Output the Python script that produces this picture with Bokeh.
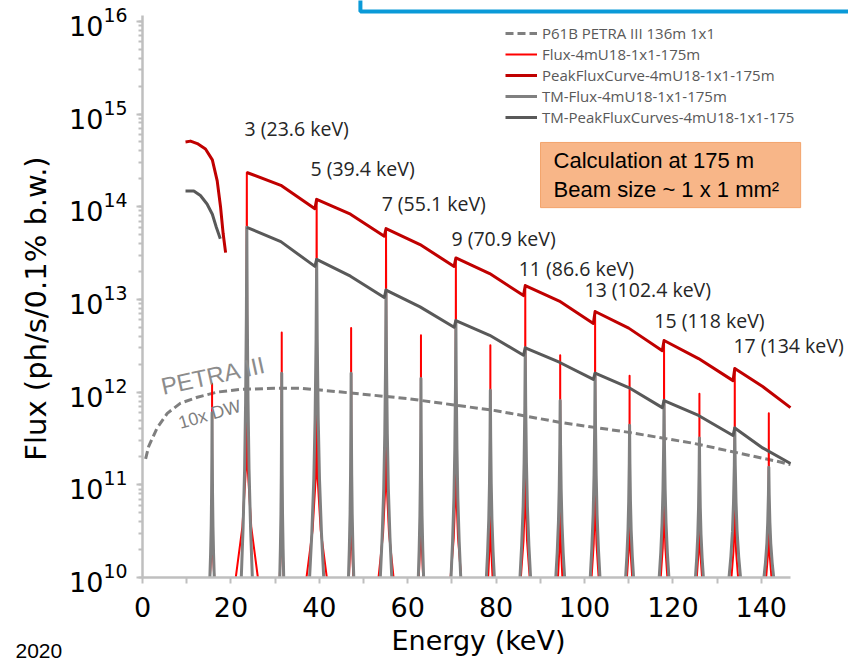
import numpy as np
from bokeh.plotting import figure
from bokeh.core.properties import value
from bokeh.models import (Range1d, FixedTicker, Legend, LegendItem,
                          BoxAnnotation, Label, LabelSet, ColumnDataSource)
from bokeh.embed import file_html
from bokeh.resources import INLINE

# ---------------- data ----------------
petra_energy = [0.7, 1.4, 3.3, 5.6, 8.6, 12.4, 16.9, 22.2, 29.9, 36.0, 45.0, 60.0,
                80.0, 94.6, 109.7, 124.7, 144.3, 146.6]
petra_flux = [1.9e11, 2.6e11, 4.1e11, 5.9e11, 7.6e11, 8.8e11, 1.0e12, 1.07e12, 1.1e12,
              1.1e12, 1.0e12, 8.5e11, 6.3e11, 4.7e11, 3.7e11, 2.8e11, 1.76e11, 1.65e11]

harm_order = [2, 3, 4, 5, 6, 7, 8, 9, 10, 11, 12, 13, 14, 15, 16, 17, 18]
harm_energy = [15.74, 23.6, 31.5, 39.4, 47.2, 55.1, 63.0, 70.9, 78.7, 86.6, 94.5,
               102.4, 110.2, 118.0, 126.0, 134.0, 141.7]
flux_peak = [1.23e12, 2.34e14, 4.4e12, 1.2e14, 4.9e12, 5.8e13, 4.1e12, 2.8e13, 3.2e12,
             1.41e13, 2.5e12, 7.4e12, 1.5e12, 3.6e12, 9.6e11, 1.8e12, 5.9e11]
tm_flux_peak = [6.0e11, 6.0e13, 1.6e12, 2.7e13, 1.6e12, 1.26e13, 1.4e12, 5.9e12, 1.05e12,
                3.0e12, 8.1e11, 1.6e12, 4.4e11, 8.1e11, 3.2e11, 4.1e11, 1.55e11]
flux_base_halfwidth = [0.5, 2.5, 0.45, 2.3, 0.5, 1.7, 0.5, 1.2, 0.5, 1.0, 0.5, 0.8,
                       0.6, 0.75, 0.6, 0.75, 0.6]
tm_base_halfwidth = [0.5, 1.25, 0.45, 1.6, 0.6, 1.3, 0.6, 1.1, 0.9, 1.2, 1.0, 1.1,
                     0.9, 1.1, 0.9, 1.3, 1.1]

# first-harmonic tuning curves
h1_pfc_energy = [9.73, 10.86, 12.4, 14.25, 15.8, 16.9, 17.65, 18.25, 18.8]
h1_pfc_flux = [5.0e14, 5.1e14, 4.8e14, 4.2e14, 3.2e14, 1.9e14, 1.0e14, 5.1e13, 3.2e13]
h1_tm_energy = [9.73, 11.6, 13.1, 14.6, 15.8, 16.7, 17.6]
h1_tm_flux = [1.48e14, 1.48e14, 1.32e14, 1.07e14, 8.3e13, 6.0e13, 4.5e13]

# higher-harmonic tuning-curve segments (3rd .. 17th)
seg_start_energy = [23.6, 39.4, 55.1, 70.9, 86.6, 102.4, 118.0, 134.0]
seg_end_energy = [39.0, 54.7, 70.5, 86.2, 102.0, 117.6, 133.6, 146.6]
pfc_start = [2.34e14, 1.2e14, 5.8e13, 2.8e13, 1.41e13, 7.4e12, 3.6e12, 1.8e12]
pfc_mid = [1.7e14, 8.3e13, 3.9e13, 1.9e13, 9.6e12, 4.9e12, 2.3e12, 1.15e12]
pfc_end = [9.5e13, 4.8e13, 2.27e13, 1.1e13, 5.5e12, 2.8e12, 1.33e12, 6.8e11]
tm_start = [6.0e13, 2.7e13, 1.26e13, 5.9e12, 3.0e12, 1.6e12, 8.1e11, 4.1e11]
tm_mid = [4.2e13, 1.78e13, 8.3e12, 4.1e12, 2.1e12, 1.12e12, 5.6e11, 2.5e11]
tm_end = [2.27e13, 1.05e13, 5.0e12, 2.5e12, 1.37e12, 6.8e11, 3.4e11, 1.7e11]

harm_label_text = ["3 (23.6 keV)", "5 (39.4 keV)", "7 (55.1 keV)", "9 (70.9 keV)",
                   "11 (86.6 keV)", "13 (102.4 keV)", "15 (118 keV)", "17 (134 keV)"]
harm_label_energy = [23.1, 38.0, 54.1, 69.9, 85.1, 100.0, 115.8, 133.7]
harm_label_flux = [6.9e14, 2.57e14, 1.07e14, 4.57e13, 2.14e13, 1.29e13, 5.89e12, 3.16e12]

x_ticks = [0, 20, 40, 60, 80, 100, 120, 140]
x_minor_ticks = [10, 30, 50, 70, 90, 110, 130]
x_axis_bounds = (0, 146.6)
y_axis_bounds = (1e10, 1.16e16)

# ---------------- peak outline helpers (shape/style) ----------------
RED_U = [1.0, 0.4, 0.08, 0.03, 0.0]
RED_F = [0.0, 0.125, 0.27, 0.6, 1.0]
TM_U = [1.0, 0.68, 0.4, 0.22, 0.08, 0.0]
TM_F = [0.0, 0.14, 0.31, 0.5, 0.75, 1.0]
FLOOR = y_axis_bounds[0]


def outline(center, peak, half, u, f):
    lp = np.log10(peak)
    lf = np.log10(FLOOR)
    xs = [center - half * uu for uu in u] + [center + half * uu for uu in u[-2::-1]]
    lv = [lf + ff * (lp - lf) for ff in f] + [lf + ff * (lp - lf) for ff in f[-2::-1]]
    return xs, [10 ** v for v in lv]


flux_xs, flux_ys, tm_xs, tm_ys = [], [], [], []
for c, pk, hw, tpk, thw in zip(harm_energy, flux_peak, flux_base_halfwidth,
                               tm_flux_peak, tm_base_halfwidth):
    a, b = outline(c, pk, hw, RED_U, RED_F)
    flux_xs.append(a); flux_ys.append(b)
    a, b = outline(c, tpk, thw, TM_U, TM_F)
    tm_xs.append(a); tm_ys.append(b)

pfc_x, pfc_y, tmc_x, tmc_y = [], [], [], []
for s, e, a0, a1, a2, b0, b1, b2 in zip(seg_start_energy, seg_end_energy, pfc_start,
                                        pfc_mid, pfc_end, tm_start, tm_mid, tm_end):
    m = (s + e) / 2
    pfc_x += [s, m, e]; pfc_y += [a0, a1, a2]
    tmc_x += [s, m, e]; tmc_y += [b0, b1, b2]

# ---------------- figure ----------------
# the plotting frame covers the whole canvas; axes are pinned inside it
W, H = 848, 662
p = figure(width=W, height=H, y_axis_type="log",
           x_range=Range1d(-32.13, 159.73),
           y_range=Range1d(10 ** 9.0831, 10 ** 16.2244),
           output_backend="svg", toolbar_location=None,
           min_border_left=0, min_border_right=0, min_border_top=0,
           min_border_bottom=0)
p.outline_line_color = None
p.grid.visible = False
p.background_fill_color = "white"
p.border_fill_color = "white"

AX = "#bfbfbf"
for ax in (p.xaxis[0], p.yaxis[0]):
    ax.axis_line_color = AX
    ax.axis_line_width = 2.5
    ax.major_tick_line_color = AX
    ax.major_tick_line_width = 2
    ax.minor_tick_line_color = AX
    ax.minor_tick_line_width = 2
    ax.major_tick_in = 0
    ax.minor_tick_in = 0
    ax.major_tick_out = 6
    ax.major_label_text_font = "DejaVu Sans"
    ax.major_label_text_font_size = "27px"
    ax.major_label_text_color = "black"

p.xaxis.ticker = FixedTicker(ticks=x_ticks, minor_ticks=x_minor_ticks)
p.xaxis.minor_tick_out = 6
p.xaxis.major_label_standoff = 13
p.xaxis.bounds = x_axis_bounds
p.xaxis.fixed_location = y_axis_bounds[0]
p.yaxis.minor_tick_out = 4
p.yaxis.major_label_standoff = 9
p.yaxis.bounds = y_axis_bounds
p.yaxis.fixed_location = x_axis_bounds[0]

r_petra = p.line(petra_energy, petra_flux, line_color="#7f7f7f", line_width=3,
                 line_dash="8 4")
r_flux = p.multi_line(flux_xs, flux_ys, line_color="#ff0000", line_width=2,
                      line_join="round")
r_tm = p.multi_line(tm_xs, tm_ys, line_color="#808080", line_width=3,
                    line_join="round")
r_pfc = p.multi_line([h1_pfc_energy, pfc_x], [h1_pfc_flux, pfc_y],
                     line_color="#c00000", line_width=3, line_join="round")
r_tmc = p.multi_line([h1_tm_energy, tmc_x], [h1_tm_flux, tmc_y],
                     line_color="#595959", line_width=3, line_join="round")

legend = Legend(items=[
    LegendItem(label="P61B PETRA III 136m 1x1", renderers=[r_petra]),
    LegendItem(label="Flux-4mU18-1x1-175m", renderers=[r_flux]),
    LegendItem(label="PeakFluxCurve-4mU18-1x1-175m", renderers=[r_pfc]),
    LegendItem(label="TM-Flux-4mU18-1x1-175m", renderers=[r_tm]),
    LegendItem(label="TM-PeakFluxCurves-4mU18-1x1-175", renderers=[r_tmc]),
], location=(505, H - 127), glyph_width=32, glyph_height=20, label_height=20,
    label_standoff=5, spacing=1, padding=0, margin=0, border_line_color=None,
    background_fill_alpha=0, label_text_font="Open Sans",
    label_text_font_size="15px", label_text_color="#595959")
p.add_layout(legend)

src = ColumnDataSource(dict(x=harm_label_energy, y=harm_label_flux, t=harm_label_text))
p.add_layout(LabelSet(x="x", y="y", text="t", source=src, text_align="left",
                      text_baseline="middle", text_font=value("Open Sans"),
                      text_font_size=value("19.5px"), text_color="#262626"))

# annotation box
p.add_layout(BoxAnnotation(left=90.05, right=148.9, bottom=10 ** 13.99, top=10 ** 14.693,
                           fill_color="#f8b688", fill_alpha=1.0,
                           line_color="#f3a46c", line_alpha=1.0, line_width=1))
p.add_layout(Label(x=93.0, y=10 ** 14.498, text="Calculation at 175 m",
                   text_baseline="middle", text_font="Liberation Sans",
                   text_font_size="22px", text_color="black"))
p.add_layout(Label(x=93.0, y=10 ** 14.185, text="Beam size ~ 1 x 1 mm\u00b2",
                   text_baseline="middle", text_font="Liberation Sans",
                   text_font_size="22px", text_color="black"))

# blue frame at top
p.add_layout(BoxAnnotation(left=49.3, right=400, bottom=10 ** 16.106, top=1e20,
                           fill_alpha=0, line_color="#0a9ad8", line_alpha=1.0,
                           line_width=4))

# PETRA III texts
p.add_layout(Label(x=16.06, y=10 ** 12.18, text="PETRA III", angle=0.215,
                   text_align="center", text_baseline="middle",
                   text_font="Liberation Sans", text_font_size="24px",
                   text_color="#8c8c8c"))
p.add_layout(Label(x=15.2, y=10 ** 11.76, text="10x DW", angle=0.28,
                   text_align="center", text_baseline="middle",
                   text_font="Liberation Sans", text_font_size="18px",
                   text_color="#7f7f7f"))

# axis titles (screen units: from the canvas bottom-left)
p.add_layout(Label(x=478, y=H - 640, x_units="screen", y_units="screen",
                   text="Energy (keV)", text_align="center",
                   text_baseline="middle", text_font="DejaVu Sans",
                   text_font_size="27px", text_color="black"))
p.add_layout(Label(x=35, y=H - 308, x_units="screen", y_units="screen",
                   text="Flux (ph/s/0.1% b.w.)", angle=np.pi / 2,
                   text_align="center", text_baseline="middle",
                   text_font="DejaVu Sans", text_font_size="29px",
                   text_color="black"))

p.add_layout(Label(x=15, y=H - 650, x_units="screen", y_units="screen", text="2020",
                   text_baseline="middle", text_font="Liberation Sans",
                   text_font_size="21px", text_color="black"))

open("out.html", "w").write(file_html(p, INLINE))
